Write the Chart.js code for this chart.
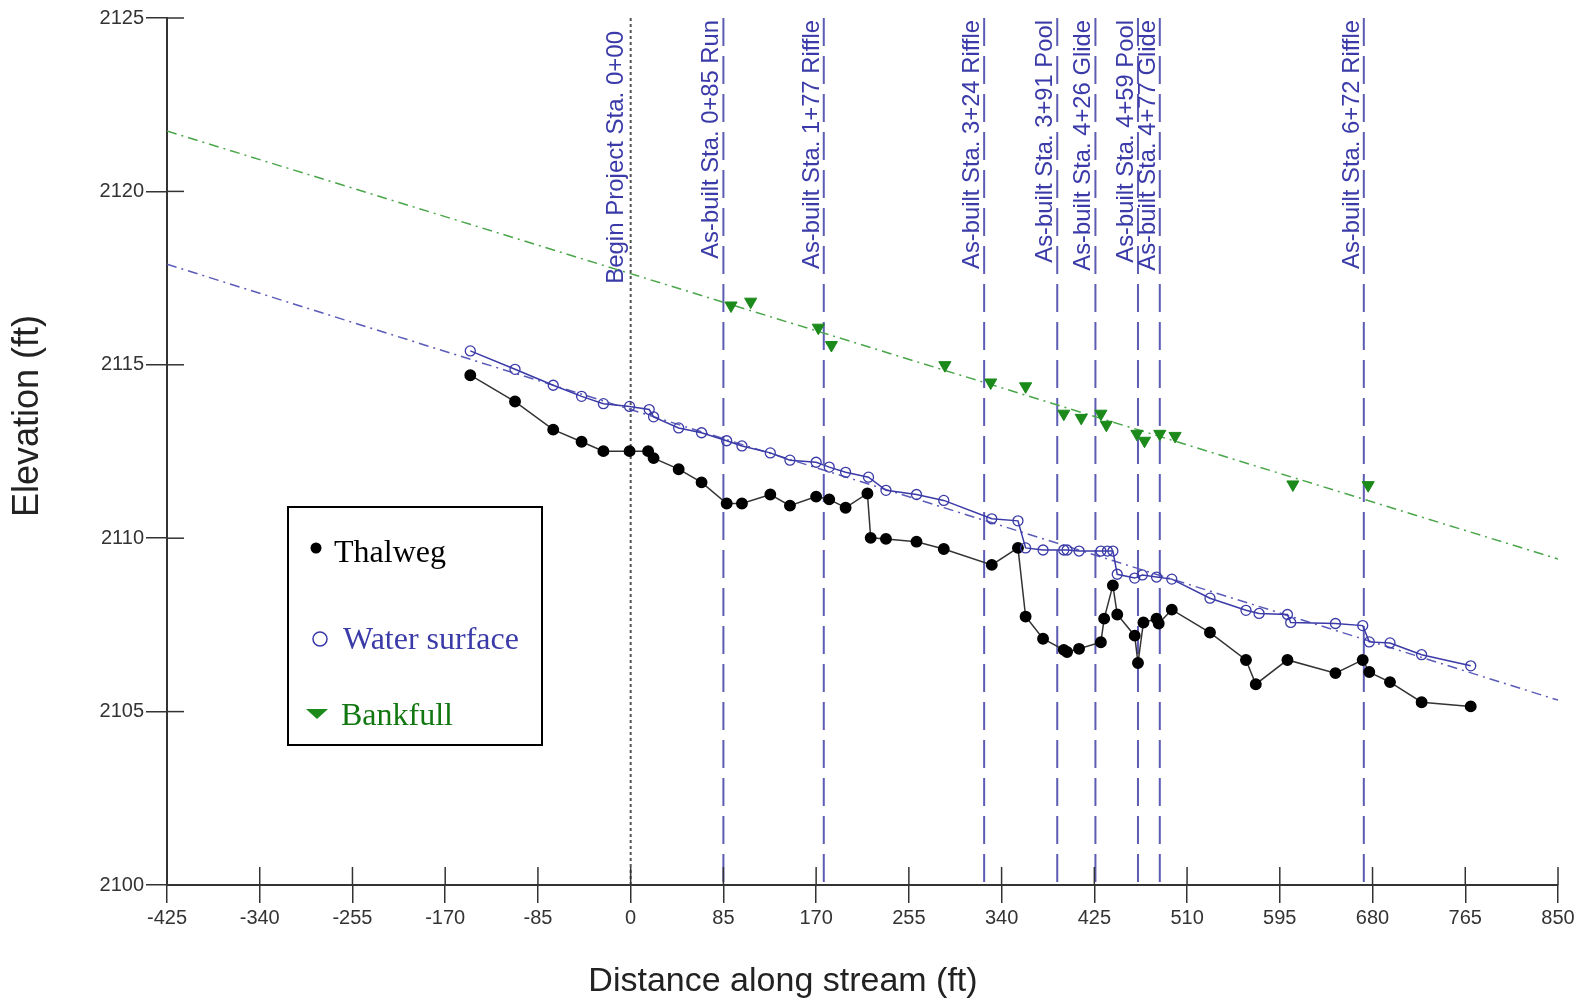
<!DOCTYPE html>
<html>
<head>
<meta charset="utf-8">
<title>Longitudinal profile</title>
<script src="https://cdn.jsdelivr.net/npm/chart.js@4.4.1/dist/chart.umd.min.js"></script>
<style>
  html, body { margin: 0; padding: 0; background: #fff; }
</style>
</head>
<body>
<canvas id="perfil" width="1583" height="1003"></canvas>
<script>
// distance along stream (ft) / elevation (ft)
const thalwegX = [-147, -106, -71, -45, -25, -1, 16, 21, 44, 65, 88, 102, 128, 146, 170, 182, 197, 217, 220, 234,
  262, 287, 331, 355, 362, 378, 397, 400, 411, 431, 434, 442, 446, 462, 465, 470, 482, 484, 496, 531,
  564, 573, 602, 646, 671, 677, 696, 725, 770];
const thalwegY = [2114.70, 2113.94, 2113.13, 2112.78, 2112.51, 2112.51, 2112.51, 2112.31, 2111.99, 2111.61,
  2111.00, 2111.00, 2111.26, 2110.94, 2111.20, 2111.12, 2110.88, 2111.29, 2110.01, 2109.98,
  2109.90, 2109.69, 2109.23, 2109.72, 2107.74, 2107.10, 2106.78, 2106.72, 2106.81, 2107.00,
  2107.68, 2108.64, 2107.80, 2107.19, 2106.40, 2107.57, 2107.68, 2107.54, 2107.94, 2107.28,
  2106.49, 2105.79, 2106.49, 2106.11, 2106.49, 2106.14, 2105.85, 2105.27, 2105.15];

const waterX = [-147, -106, -71, -45, -25, -1, 17, 21, 44, 65, 88, 102, 128, 146, 170, 182, 197, 218, 234, 262,
  287, 331, 355, 362, 378, 397, 400, 411, 431, 437, 442, 446, 462, 469, 482, 496, 531, 564, 576, 602,
  605, 646, 671, 677, 696, 725, 770];
const waterY = [2115.40, 2114.87, 2114.41, 2114.09, 2113.88, 2113.80, 2113.71, 2113.50, 2113.18, 2113.04,
  2112.81, 2112.66, 2112.46, 2112.25, 2112.19, 2112.05, 2111.90, 2111.76, 2111.38, 2111.26,
  2111.09, 2110.56, 2110.50, 2109.72, 2109.66, 2109.66, 2109.66, 2109.63, 2109.63, 2109.63,
  2109.63, 2108.96, 2108.85, 2108.94, 2108.88, 2108.82, 2108.27, 2107.92, 2107.83, 2107.80,
  2107.57, 2107.54, 2107.48, 2107.01, 2106.98, 2106.64, 2106.32];

const bankfullX = [92, 110, 172, 184, 288, 330, 362, 397, 413, 431, 436, 464, 471, 485, 499, 607, 676];
const bankfullY = [2116.71, 2116.82, 2116.07, 2115.57, 2114.99, 2114.49, 2114.38, 2113.59, 2113.47, 2113.59,
  2113.27, 2113.01, 2112.81, 2113.01, 2112.95, 2111.55, 2111.53];

// fitted lines
const trendX = [-425, 850];
const bankfullTrendY = [2121.74, 2109.40];
const waterTrendY = [2117.90, 2105.33];

// station markers
const beginX = 0;
const beginLabel = 'Begin Project Sta. 0+00';
const stationX = [85, 177, 324, 391, 426, 465, 485, 672];
const stationLabels = ['As-built Sta. 0+85 Run', 'As-built Sta. 1+77 Riffle', 'As-built Sta. 3+24 Riffle',
  'As-built Sta. 3+91 Pool', 'As-built Sta. 4+26 Glide', 'As-built Sta. 4+59 Pool',
  'As-built Sta. 4+77 Glide', 'As-built Sta. 6+72 Riffle'];

const xMin = -425, xMax = 850, xStep = 85;
const yMin = 2100, yMax = 2125, yStep = 5;

const yTitle = 'Elevation (ft)';
const xTitle = 'Distance along stream (ft)';
const legendLabels = ['Thalweg', 'Water surface', 'Bankfull'];

const SANS = '"Liberation Sans", Arial, sans-serif';
const SERIF = '"Liberation Serif", "Times New Roman", serif';
const BLUE = '#3a3aa8';
const GREEN = '#1b8a1b';

function puntos(xs, ys) {
  return xs.map((x, i) => ({ x: x, y: ys[i] }));
}

const perfilPlugin = {
  id: 'perfil',
  beforeDatasetsDraw(chart) {
    const { ctx, chartArea, scales: { x } } = chart;
    ctx.save();
    // begin project line
    let px = x.getPixelForValue(beginX);
    ctx.strokeStyle = '#555';
    ctx.lineWidth = 2;
    ctx.setLineDash([3, 3]);
    ctx.beginPath();
    ctx.moveTo(px, chartArea.top);
    ctx.lineTo(px, chartArea.bottom);
    ctx.stroke();
    // as-built lines
    ctx.strokeStyle = '#5c5cb4';
    ctx.setLineDash([28, 10]);
    stationX.forEach(s => {
      const p = x.getPixelForValue(s);
      ctx.beginPath();
      ctx.moveTo(p, chartArea.top);
      ctx.lineTo(p, chartArea.bottom);
      ctx.stroke();
    });
    ctx.setLineDash([]);
    // labels
    ctx.fillStyle = BLUE;
    ctx.textAlign = 'right';
    ctx.textBaseline = 'alphabetic';
    ctx.font = '24px ' + SANS;
    ctx.save();
    ctx.translate(px - 8, chartArea.top + 13);
    ctx.rotate(-Math.PI / 2);
    ctx.fillText(beginLabel, 0, 0);
    ctx.restore();
    ctx.font = '23.8px ' + SANS;
    stationX.forEach((s, i) => {
      const p = x.getPixelForValue(s);
      ctx.save();
      ctx.translate(p - 5, chartArea.top + 2);
      ctx.rotate(-Math.PI / 2);
      ctx.fillText(stationLabels[i], 0, 0);
      ctx.restore();
    });
    ctx.restore();
  },
  afterDraw(chart) {
    const { ctx, chartArea, scales: { x, y } } = chart;
    ctx.save();
    // tick marks on the inner side of the axes
    ctx.strokeStyle = '#333';
    ctx.lineWidth = 1.5;
    x.ticks.forEach(t => {
      const p = x.getPixelForValue(t.value);
      ctx.beginPath();
      ctx.moveTo(p, chartArea.bottom);
      ctx.lineTo(p, chartArea.bottom - 18);
      ctx.stroke();
    });
    y.ticks.forEach(t => {
      const p = y.getPixelForValue(t.value);
      ctx.beginPath();
      ctx.moveTo(chartArea.left, p);
      ctx.lineTo(chartArea.left + 17, p);
      ctx.stroke();
    });

    // y axis title
    ctx.save();
    ctx.fillStyle = '#222';
    ctx.font = '36px ' + SANS;
    ctx.textAlign = 'center';
    ctx.textBaseline = 'middle';
    ctx.translate(28, 416);
    ctx.rotate(-Math.PI / 2);
    ctx.fillText(yTitle, 0, 0);
    ctx.restore();

    // legend box
    const lx = 288, ly = 507, lw = 254, lh = 238;
    ctx.fillStyle = '#fff';
    ctx.fillRect(lx, ly, lw, lh);
    ctx.strokeStyle = '#000';
    ctx.lineWidth = 2;
    ctx.strokeRect(lx, ly, lw, lh);

    ctx.font = '32px ' + SERIF;
    ctx.textAlign = 'left';
    ctx.textBaseline = 'middle';

    ctx.fillStyle = '#000';
    ctx.beginPath();
    ctx.arc(lx + 28, ly + 41, 5.5, 0, Math.PI * 2);
    ctx.fill();
    ctx.fillText(legendLabels[0], lx + 46, ly + 47);

    ctx.strokeStyle = BLUE;
    ctx.lineWidth = 1.5;
    ctx.beginPath();
    ctx.arc(lx + 32, ly + 132, 7, 0, Math.PI * 2);
    ctx.stroke();
    ctx.fillStyle = BLUE;
    ctx.fillText(legendLabels[1], lx + 55, ly + 134);

    ctx.fillStyle = GREEN;
    ctx.beginPath();
    ctx.moveTo(lx + 18, ly + 202);
    ctx.lineTo(lx + 40, ly + 202);
    ctx.lineTo(lx + 29, ly + 212);
    ctx.closePath();
    ctx.fill();
    ctx.fillStyle = '#117711';
    ctx.fillText(legendLabels[2], lx + 53, ly + 210);
    ctx.restore();
  }
};

new Chart(document.getElementById('perfil'), {
  type: 'scatter',
  data: {
    datasets: [
      {
        label: 'Bankfull',
        data: puntos(bankfullX, bankfullY),
        showLine: false,
        pointStyle: 'triangle',
        rotation: 180,
        pointRadius: 7,
        backgroundColor: GREEN,
        borderColor: GREEN,
        borderWidth: 1
      },
      {
        label: 'Water surface',
        data: puntos(waterX, waterY),
        showLine: true,
        borderColor: BLUE,
        borderWidth: 1.5,
        pointRadius: 5,
        pointBackgroundColor: 'rgba(255,255,255,0)',
        pointBorderColor: BLUE,
        pointBorderWidth: 1.3
      },
      {
        label: 'Thalweg',
        data: puntos(thalwegX, thalwegY),
        showLine: true,
        borderColor: '#333',
        borderWidth: 1.5,
        pointRadius: 5.2,
        pointBackgroundColor: '#000',
        pointBorderColor: '#000'
      },
      {
        label: 'Bankfull trend',
        data: puntos(trendX, bankfullTrendY),
        showLine: true,
        borderColor: '#4aa64a',
        borderWidth: 1.5,
        borderDash: [10, 5, 2, 5],
        pointRadius: 0
      },
      {
        label: 'Water surface trend',
        data: puntos(trendX, waterTrendY),
        showLine: true,
        borderColor: '#5a5ab8',
        borderWidth: 1.5,
        borderDash: [10, 5, 2, 5],
        pointRadius: 0
      }
    ]
  },
  options: {
    responsive: false,
    animation: false,
    layout: { padding: { left: 8, right: 25, top: 18, bottom: 0 } },
    plugins: {
      legend: { display: false },
      tooltip: { enabled: false },
      title: {
        display: true,
        position: 'bottom',
        text: xTitle,
        color: '#222',
        font: { family: SANS, size: 34, weight: 'normal' },
        padding: { top: 10, bottom: 1 }
      }
    },
    scales: {
      x: {
        type: 'linear',
        min: xMin,
        max: xMax,
        afterFit: s => { s.height = 118 - (34 * 1.2 + 11); },
        ticks: {
          stepSize: xStep,
          autoSkip: false,
          maxRotation: 0,
          padding: 3,
          color: '#333',
          font: { family: SANS, size: 20 },
          callback: v => String(v)
        },
        grid: { drawOnChartArea: false, drawTicks: true, tickLength: 18, color: '#333', lineWidth: 1.5 },
        border: { color: '#333', width: 2 }
      },
      y: {
        type: 'linear',
        min: yMin,
        max: yMax,
        afterFit: s => { s.width = 159; },
        ticks: {
          stepSize: yStep,
          padding: 2,
          color: '#333',
          font: { family: SANS, size: 20 },
          callback: v => String(v)
        },
        grid: { drawOnChartArea: false, drawTicks: true, tickLength: 21, color: '#333', lineWidth: 1.5 },
        border: { color: '#333', width: 2 }
      }
    }
  },
  plugins: [perfilPlugin]
});
</script>
</body>
</html>
